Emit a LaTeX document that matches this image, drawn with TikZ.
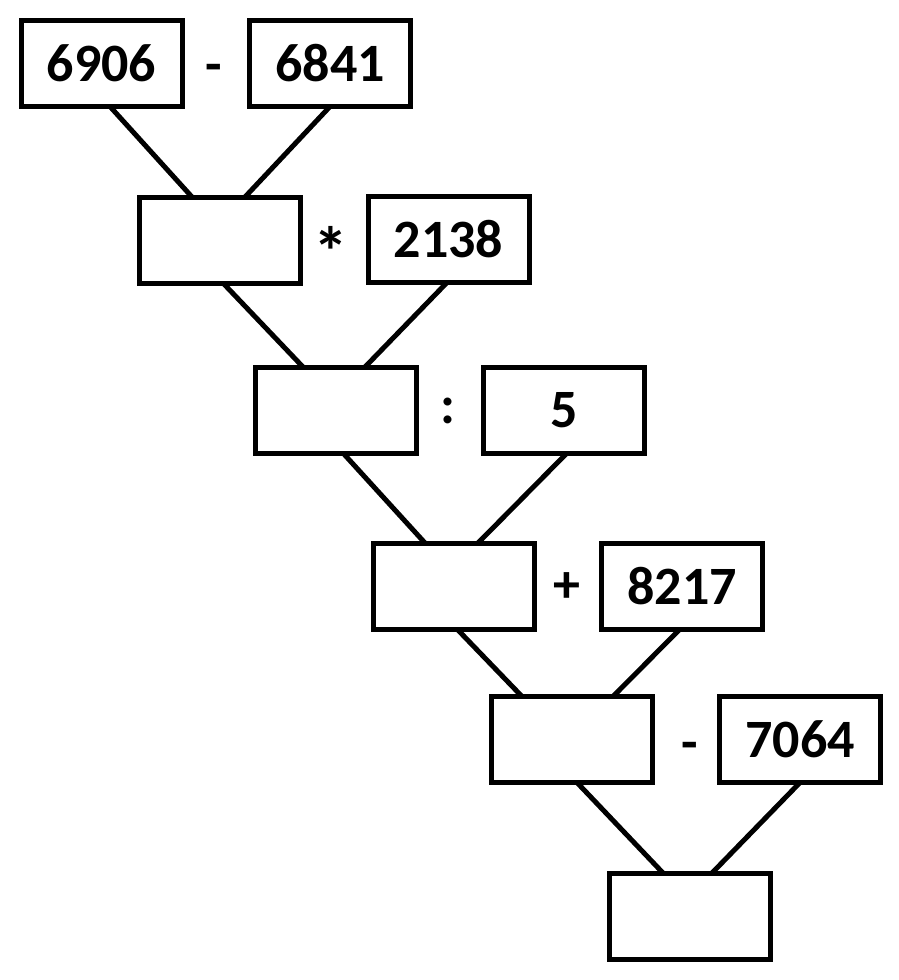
\documentclass[tikz,border=0pt]{standalone}
\usepackage{fontspec}
\setmainfont{Carlito}
\usetikzlibrary{backgrounds}
\begin{document}
\begin{tikzpicture}[x=1pt,y=-1pt,
  numfont/.style={font=\fontsize{54}{60}\selectfont\bfseries},
  box/.style={draw, fill=white, line width=5pt, minimum width=161pt, minimum height=86pt, inner sep=0pt, outer sep=0pt, numfont},
  op/.style={anchor=base, inner sep=0pt, numfont},
  link/.style={line width=5pt}]
\useasboundingbox (0,0) rectangle (898,980);
\node[box] (A) at (101.5,63.5) {6906};
\node[box] (B) at (330,63.5) {6841};
\node[box] (C) at (220,240) {};
\node[box] (D) at (448.5,239.5) {2138};
\node[box] (E) at (336,410) {};
\node[box] (F) at (564,410) {5};
\node[box] (G) at (454,586) {};
\node[box] (H) at (682,586) {8217};
\node[box] (I) at (571.5,739.5) {};
\node[box] (J) at (800,739.5) {7064};
\node[box] (K) at (690,916) {};
\node[op] (o1) at (214,82) {-};
\node[op, anchor=north, font=\fontsize{70}{76}\selectfont\bfseries] (o2) at (331,226) {*};
\node[op] (o3) at (448,423) {:};
\node[op] (o4) at (567,602) {+};
\node[op] (o5) at (690,760) {-};
\begin{scope}[on background layer]
\draw[link] ([xshift=8.5pt]A.south) -- ([xshift=-28pt]C.north);
\draw[link] (B.south) -- ([xshift=25pt]C.north);
\draw[link] ([xshift=3pt]C.south) -- ([xshift=-33pt]E.north);
\draw[link] ([xshift=-1.5pt]D.south) -- ([xshift=29pt]E.north);
\draw[link] ([xshift=7pt]E.south) -- ([xshift=-29pt]G.north);
\draw[link] ([xshift=3pt]F.south) -- ([xshift=24pt]G.north);
\draw[link] ([xshift=3pt]G.south) -- ([xshift=-49.5pt]I.north);
\draw[link] ([xshift=-2pt]H.south) -- ([xshift=41.5pt]I.north);
\draw[link] ([xshift=5.5pt]I.south) -- ([xshift=-27pt]K.north);
\draw[link] (J.south) -- ([xshift=22pt]K.north);
\end{scope}
\end{tikzpicture}
\end{document}
